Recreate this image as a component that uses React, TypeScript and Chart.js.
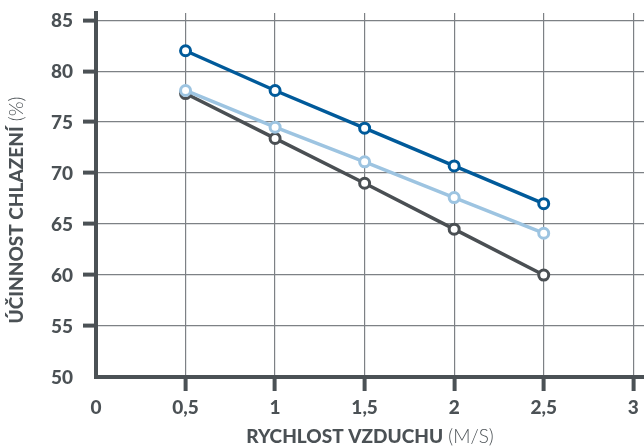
import React, { useEffect, useRef } from "react";
import { Chart, registerables } from "chart.js";

Chart.register(...registerables);

const xTicks = [0, 0.5, 1, 1.5, 2, 2.5, 3];
const yTicks = [50, 55, 60, 65, 70, 75, 80, 85];
const speeds = [0.5, 1, 1.5, 2, 2.5];
const seriesDarkBlue = [82, 78.1, 74.4, 70.7, 67];
const seriesLightBlue = [78.1, 74.5, 71.1, 67.6, 64.1];
const seriesGray = [77.8, 73.4, 69, 64.5, 60];
const xTitleBold = "RYCHLOST VZDUCHU";
const xTitleLight = " (M/S)";
const yTitleBold = "ÚČINNOST CHLAZENÍ";
const yTitleLight = " (%)";

const AXIS = "#4b5155";
const GRID = "#7d8185";
const FONT = "Lato";
const TICK_FONT = `900 19px ${FONT}`;

function drawMixed(ctx: CanvasRenderingContext2D, bold: string, light: string, cx: number, cy: number) {
  ctx.font = `900 19px ${FONT}`;
  const wb = ctx.measureText(bold).width;
  ctx.font = `300 19px ${FONT}`;
  const wl = ctx.measureText(light).width;
  const start = cx - (wb + wl) / 2;
  ctx.fillStyle = AXIS;
  ctx.textBaseline = "middle";
  ctx.textAlign = "left";
  ctx.font = `900 19px ${FONT}`;
  ctx.fillText(bold, start, cy);
  ctx.font = `300 19px ${FONT}`;
  ctx.fillText(light, start + wb, cy);
}

const labelsPlugin = {
  id: "axisText",
  afterDraw(chart: any) {
    const ctx = chart.ctx as CanvasRenderingContext2D;
    const area = chart.chartArea;
    ctx.save();
    drawMixed(ctx, xTitleBold, xTitleLight, (area.left + area.right) / 2, 437);
    ctx.restore();
    ctx.save();
    ctx.translate(17, 210);
    ctx.rotate(-Math.PI / 2);
    drawMixed(ctx, yTitleBold, yTitleLight, 0, 0);
    ctx.restore();

    // tick labels, positioned by the library's scales
    const xs = chart.scales.x;
    const ys = chart.scales.y;
    ctx.save();
    ctx.font = TICK_FONT;
    ctx.fillStyle = AXIS;
    ctx.textBaseline = "middle";
    ctx.textAlign = "center";
    xs.ticks.forEach((t: any) => {
      ctx.fillText(String(t.label), xs.getPixelForValue(t.value), area.bottom + 31);
    });
    ctx.textAlign = "right";
    ys.ticks.forEach((t: any) => {
      ctx.fillText(String(t.label), area.left - 23, ys.getPixelForValue(t.value) + 1);
    });
    ctx.restore();
  },
};

function makeDataset(data: number[], color: string) {
  return {
    data: speeds.map((x, i) => ({ x, y: data[i] })),
    borderColor: color,
    backgroundColor: "#ffffff",
    pointBackgroundColor: "#ffffff",
    pointBorderColor: color,
    borderWidth: 3.5,
    pointRadius: 5,
    pointBorderWidth: 3,
    tension: 0,
  };
}

const tickFont = { family: FONT, size: 19, weight: "900" };
const HIDDEN = "rgba(0,0,0,0)";

export default function App() {
  const ref = useRef<HTMLCanvasElement>(null);
  useEffect(() => {
    if (!ref.current) return;
    const chart = new Chart(ref.current, {
      type: "line",
      data: {
        datasets: [
          makeDataset(seriesDarkBlue, "#005a9a"),
          makeDataset(seriesLightBlue, "#9dc4e1"),
          makeDataset(seriesGray, "#4a4f53"),
        ],
      },
      plugins: [labelsPlugin],
      options: {
        animation: false,
        responsive: false,
        devicePixelRatio: 1,
        layout: { autoPadding: false, padding: { top: 13, right: 0, left: 0, bottom: 0 } },
        plugins: { legend: { display: false }, tooltip: { enabled: false } },
        scales: {
          x: {
            type: "linear",
            min: 0,
            max: 3.06,
            afterBuildTicks: (scale: any) => {
              scale.ticks = xTicks.map((v) => ({ value: v }));
            },
            afterFit: (scale: any) => {
              scale.height = 71;
              scale.paddingLeft = 0;
              scale.paddingRight = 0;
            },
            border: { color: AXIS, width: 4 },
            grid: {
              color: GRID,
              lineWidth: 1.2,
              tickLength: 14,
              tickWidth: 4,
              tickColor: (c: any) => (c.tick && c.tick.value === 0 ? HIDDEN : AXIS),
            },
            ticks: {
              color: HIDDEN,
              padding: 6,
              font: tickFont,
              callback: (v: any) => String(v).replace(".", ","),
            },
          },
          y: {
            type: "linear",
            min: 50,
            max: 85.7,
            afterBuildTicks: (scale: any) => {
              scale.ticks = yTicks.map((v) => ({ value: v }));
            },
            afterFit: (scale: any) => {
              scale.width = 96;
              scale.paddingTop = 0;
              scale.paddingBottom = 0;
            },
            border: { color: AXIS, width: 4 },
            grid: {
              color: GRID,
              lineWidth: 1.2,
              tickLength: 13,
              tickWidth: 4,
              tickColor: (c: any) => (c.tick && c.tick.value === 50 ? HIDDEN : AXIS),
            },
            ticks: {
              color: HIDDEN,
              padding: 10,
              font: tickFont,
              callback: (v: any) => String(v),
            },
          },
        },
      },
    });
    return () => chart.destroy();
  }, []);
  return (
    <div style={{ position: "absolute", left: 0, top: 0, width: 644, height: 448, background: "#fff" }}>
      <canvas ref={ref} width={644} height={448} style={{ display: "block" }} />
    </div>
  );
}
